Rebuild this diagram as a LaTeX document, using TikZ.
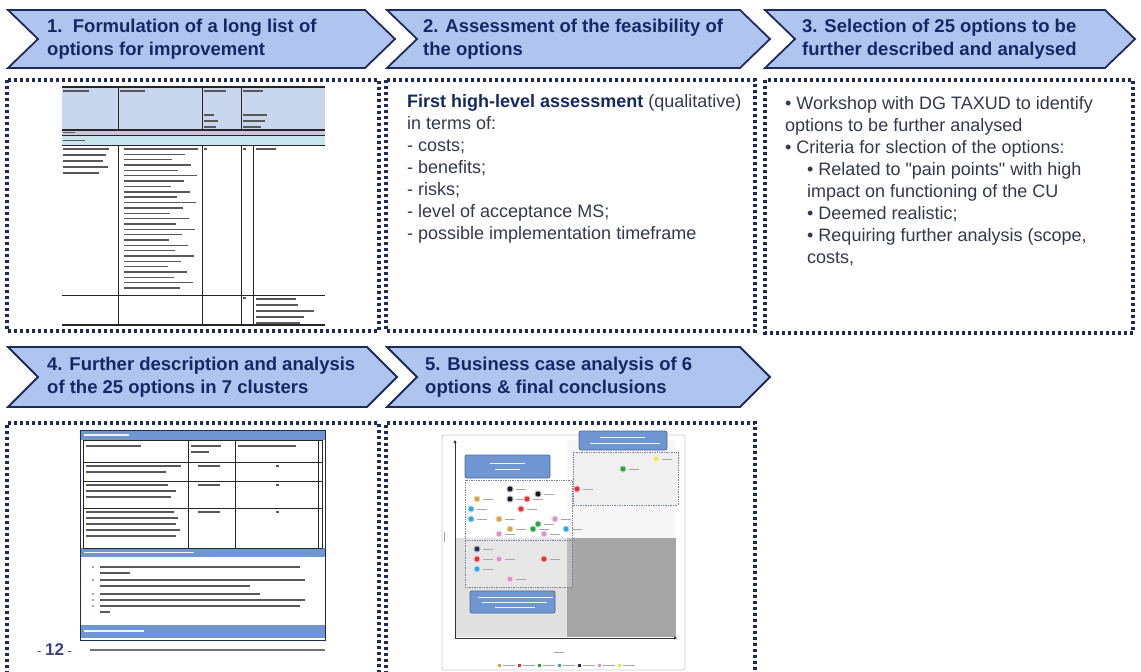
\documentclass[tikz,border=0pt]{standalone}
\usepackage{fontspec}
\setmainfont{Liberation Sans}
\newfontfamily\straightq{Liberation Sans}
\usepackage{tikz}
\usetikzlibrary{positioning, arrows.meta}

\definecolor{navy}{RGB}{30,42,90}
\definecolor{titleblue}{RGB}{22,40,100}
\definecolor{chevfill}{RGB}{176,196,240}
\definecolor{bodygray}{RGB}{52,56,76}
\definecolor{hdrblue}{RGB}{200,214,238}
\definecolor{lavender}{RGB}{205,195,218}
\definecolor{lightcyan}{RGB}{200,228,236}
\definecolor{barblue}{RGB}{112,150,210}
\definecolor{dotblack}{RGB}{25,25,35}
\definecolor{dotred}{RGB}{222,50,55}
\definecolor{dotblue}{RGB}{45,165,225}
\definecolor{dottan}{RGB}{212,165,70}
\definecolor{dotpink}{RGB}{222,145,205}
\definecolor{dotgreen}{RGB}{45,160,70}
\definecolor{dotyellow}{RGB}{232,232,90}
\definecolor{dotnavy}{RGB}{30,50,85}

\tikzset{
  chevron/.style={draw=navy, line width=1.8pt, fill=chevfill, line join=miter},
  steptitle/.style={anchor=west, align=left, inner sep=0pt, text=titleblue,
    font=\fontsize{18.5}{23}\selectfont\bfseries},
  dotbox/.style={draw=navy, line width=3.2pt, dash pattern=on 3pt off 3pt},
  bodytext/.style={anchor=north west, align=left, inner sep=0pt, text=bodygray,
    font=\fontsize{18}{22}\selectfont},
  tbline/.style={line width=0.6pt, draw=black!85},
  txtbar/.style={line width=1.4pt, draw=black!65},
  whitebar/.style={line width=1.3pt, draw=white!90!barblue},
  chartbar/.style={line width=0.7pt, draw=black!35},
}

\begin{document}
\begin{tikzpicture}[x=1pt,y=-1pt]
\useasboundingbox (0,0) rectangle (1141,672);

% chevrons for the five steps
\foreach \xa/\xb/\yt/\yb in {8/365/10/68, 387/740/10/68, 765/1105/10/68, 8/367/347/407, 387/740/347/407}
\draw[chevron] (\xa,\yt) -- (\xb,\yt) -- ({\xb+30},{(\yt+\yb)/2}) -- (\xb,\yb)
   -- (\xa,\yb) -- ({\xa+30},{(\yt+\yb)/2}) -- cycle;

\node[steptitle] (title1) at (47,39) {1.\ \ Formulation of a long list of\\options for improvement};
\node[steptitle] (title2) at (423,39) {2. Assessment of the feasibility of\\the options};
\node[steptitle] (title3) at (802,39) {3. Selection of 25 options to be\\further described and analysed};
\node[steptitle] (title4) at (47,377) {4. Further description and analysis\\of the 25 options in 7 clusters};
\node[steptitle] (title5) at (425,377) {5. Business case analysis of 6\\options \& final conclusions};

% dotted frames
\draw[dotbox] (7,80) rectangle (379,331);
\draw[dotbox] (386,80) rectangle (755,331);
\draw[dotbox] (765,80) rectangle (1133,333);
\draw[dotbox] (7,680) -- (7,423) -- (379,423) -- (379,680);
\draw[dotbox] (386,680) -- (386,423) -- (755,423) -- (755,680);

% step 2 text
\node[bodytext] (assess) at (407,94)
  {\textcolor{titleblue}{\bfseries First high-level assessment} (qualitative)\\
   in terms of:\\- costs;\\- benefits;\\- risks;\\- level of acceptance MS;\\
   - possible implementation timeframe};

% step 3 text
\node[bodytext] (select) at (785,96)
  {• Workshop with DG TAXUD to identify\\
   options to be further analysed\\
   • Criteria for slection of the options:\\
   \hspace*{22pt}• Related to {\straightq"}pain points{\straightq"} with high\\
   \hspace*{22pt}impact on functioning of the CU\\
   \hspace*{22pt}• Deemed realistic;\\
   \hspace*{22pt}• Requiring further analysis (scope,\\
   \hspace*{22pt}costs,};

% table thumbnail, step 1
\fill[hdrblue] (62,87) rectangle (325,130);
\fill[lavender] (62,130) rectangle (325,135);
\fill[lightcyan] (62,135) rectangle (325,145);
\draw[tbline, line width=1.4pt] (62,87) -- (325,87);
\draw[tbline, line width=1.4pt] (62,130) -- (325,130);
\draw[tbline] (62,135) -- (325,135);
\draw[tbline] (62,145) -- (325,145);
\draw[tbline] (62,295) -- (325,295);
\draw[tbline, line width=1.2pt] (62,325) -- (325,325);
\foreach \x in {118,202,241}
\draw[tbline] (\x,87) -- (\x,130) (\x,145) -- (\x,325);
\draw[tbline] (253,145) -- (253,325);
\foreach \x/\w in {63/26,120/25,204/22,243/20}
\draw[txtbar] (\x,91) -- +(\w,0);
\foreach \y/\w in {115/10,121/14,127/12}
\draw[txtbar] (204,\y) -- +(\w,0);
\foreach \y/\w in {115/24,121/22,127/18}
\draw[txtbar] (243,\y) -- +(\w,0);
\draw[txtbar, line width=0.8pt] (63,132.5) -- +(12,0);
\draw[txtbar, line width=0.8pt] (63,140) -- +(22,0);
\foreach \y/\w in {149/46,155/43,161/40,167/45,173/36}
\draw[txtbar] (63,\y) -- +(\w,0);
\foreach \i in {0,...,26}{
  \pgfmathsetmacro\w{74-mod(\i*13,32)}
  \draw[txtbar] (124,{149+5.35*\i}) -- +(\w,0);
}
\draw[txtbar] (204,149) -- +(3,0);
\draw[txtbar] (243,149) -- +(3,0);
\draw[txtbar] (256,149) -- +(20,0);
\draw[txtbar] (243,298) -- +(3,0);
\foreach \y/\w in {299/40,305/42,311/58,317/48,323/44}
\draw[txtbar] (256,\y) -- +(\w,0);

% table thumbnail, step 4
\fill[barblue] (80,430) rectangle (325,440);
\fill[barblue] (80,548) rectangle (325,557);
\fill[barblue] (80,625) rectangle (325,638);
\draw[tbline] (83,440) rectangle (322,548);
\foreach \y in {462,481,508}
\draw[tbline] (83,\y) -- (322,\y);
\foreach \x in {188,235,318}
\draw[tbline] (\x,440) -- (\x,548);
\draw[navy, line width=1pt] (80,430) rectangle (325,640);
\draw[whitebar] (84,435) -- +(45,0);
\draw[whitebar] (84,552.5) -- +(110,0);
\draw[whitebar] (84,631) -- +(60,0);
\draw[txtbar] (86,446) -- +(55,0);
\draw[txtbar] (191,446) -- +(30,0);
\draw[txtbar] (191,452) -- +(18,0);
\draw[txtbar] (238,446) -- +(58,0);
\foreach \y/\w in {466/95,472/80, 485/82,491/90,497/85, 512/88,518/92,524/90,530/94,536/90}
\draw[txtbar] (86,\y) -- +(\w,0);
\foreach \y in {466,485,512}{
  \draw[txtbar] (198,\y) -- +(22,0);
  \draw[txtbar] (276,\y) -- +(3,0);
}
\foreach \y/\w/\b in {567/200/1,573/30/0,580/205/1,586/150/0,594/160/1,600/205/1,606/200/1,612/10/0}{
  \ifnum\b=1 \fill[black!70] (93,\y) circle (0.9); \fi
  \draw[txtbar] (100,\y) -- +(\w,0);
}
\node[anchor=west, inner sep=0pt, text=black!45!blue!50!gray, font=\fontsize{13}{13}\selectfont]
  (pagenum) at (37,650) {- {\fontsize{17}{17}\selectfont\bfseries 12} -};
\draw[txtbar, line width=1.2pt, draw=black!55] (90,650) -- (325,650);

% chart thumbnail, step 5
\draw[black!20, line width=0.8pt, rounded corners=2pt] (442,435) rectangle (685,670);
\fill[black!3] (567,440) rectangle (676,538);
\fill[black!12] (456,538) rectangle (567,637);
\fill[black!35] (567,538) rectangle (676,637);
\draw[navy!60, densely dotted, line width=0.7pt, fill=white, fill opacity=0.25] (465,480) rectangle (572,587);
\draw[navy!60, densely dotted, line width=0.7pt] (465,540) -- (572,540);
\draw[navy!60, densely dotted, line width=0.7pt, fill=black!6] (573,452) rectangle (678,505);
\draw[black!80, line width=0.8pt, -{Triangle[length=3pt,width=3pt]}] (455,638) -- (455,440);
\draw[black!80, line width=0.8pt, -{Triangle[length=3pt,width=3pt]}] (455,638) -- (677,638);
\draw[chartbar] (444,532) -- (444,542);
\draw[chartbar] (554,652) -- +(10,0);
\foreach \xa/\ya/\xb/\yb in {465/455/550/478, 579/431/667/450, 470/591/555/613}
\draw[barblue, fill=barblue, draw=barblue!70!black, line width=0.8pt, rounded corners=2pt]
  (\xa,\ya) rectangle (\xb,\yb);
\draw[whitebar, line width=0.9pt] (490,463) -- +(35,0);
\draw[whitebar, line width=0.9pt] (495,469) -- +(25,0);
\draw[whitebar, line width=0.9pt] (600,437) -- +(45,0);
\draw[whitebar, line width=0.9pt] (590,443) -- +(70,0);
\draw[whitebar, line width=0.9pt] (478,597) -- +(75,0);
\draw[whitebar, line width=0.9pt] (482,602) -- +(65,0);
\draw[whitebar, line width=0.9pt] (495,607) -- +(40,0);
\foreach \x/\y/\c in {510/489/dotblack, 538/494/dotblack, 477/499/dottan, 510/499/dotblack,
  527/499/dotred, 471/509/dotblue, 521/509/dotred, 471/519/dotblue, 499/519/dottan,
  555/519/dotpink, 538/524/dotgreen, 510/529/dottan, 533/529/dotgreen, 566/529/dotblue,
  499/534/dotpink, 544/534/dotpink, 477/549/dotnavy, 477/559/dotred, 499/559/dotpink,
  544/559/dotred, 477/569/dotblue, 510/579/dotpink, 577/489/dotred, 623/469/dotgreen,
  656/459/dotyellow}{
  \fill[\c!35] (\x,\y) circle (3.6);
  \fill[\c] (\x,\y) circle (2.4);
  \draw[chartbar] ({\x+6},\y) -- +(10,0);
}
\foreach \c [count=\i] in {dottan,dotred,dotgreen,dotblue,dotnavy,dotpink,dotyellow}{
  \fill[\c] ({478+20*\i},663.5) rectangle +(3,3);
  \draw[chartbar] ({483+20*\i},665) -- +(12,0);
}
\end{tikzpicture}
\end{document}
